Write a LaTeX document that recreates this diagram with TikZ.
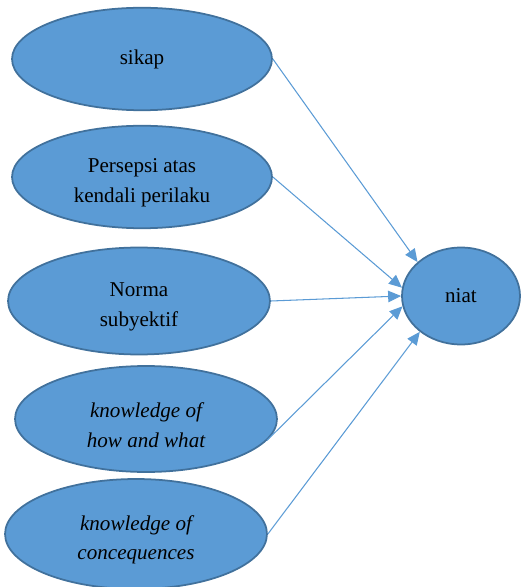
\documentclass[tikz,border=0pt]{standalone}
\usepackage{fontspec}
\setmainfont{Liberation Serif}
\usepackage{tikz}
\usetikzlibrary{arrows.meta, shapes.geometric}
\definecolor{isi}{RGB}{91,155,213}
\definecolor{tepi}{RGB}{65,113,156}
\newcommand{\turun}{\rule{0pt}{15pt}}

\begin{document}
\begin{tikzpicture}[x=0.02cm, y=-0.02cm,
  >={Triangle[length=2.6mm, width=2.3mm]},
  faktor/.style={draw=tepi, fill=isi, ellipse, line width=1pt, inner sep=0pt,
    minimum width=5.2cm, minimum height=2.05cm, align=center,
    font=\fontsize{12}{17}\selectfont},
  panah/.style={->, draw=isi, line width=0.6pt}]

  \useasboundingbox (0,0) rectangle (520,587);

  % variabel bebas
  \node[faktor] (sikap)   at (142,59)  {sikap};
  \node[faktor] (persepsi) at (142,177) {\turun Persepsi atas\\kendali perilaku};
  \node[faktor, minimum width=5.24cm, minimum height=2.14cm] (norma)
    at (139,301) {\turun Norma\\subyektif};
  \node[faktor, minimum width=5.24cm, minimum height=2.12cm] (howwhat)
    at (146,419) {\turun\itshape knowledge of\\\itshape how and what};
  \node[faktor, minimum width=5.24cm, minimum height=2.2cm] (akibat)
    at (136,534) {\turun\itshape knowledge of\\\itshape concequences};

  % variabel terikat
  \node[faktor, minimum width=2.36cm, minimum height=1.94cm] (niat) at (461,296) {niat};

  \draw[panah] (sikap.east)    -- (niat.142);
  \draw[panah] (persepsi.east) -- (niat.172);
  \draw[panah] (norma.east)    -- (niat.180);
  \draw[panah] (howwhat.-10)   -- (niat.190);
  \draw[panah] (akibat.east)   -- (niat.221);
\end{tikzpicture}
\end{document}
